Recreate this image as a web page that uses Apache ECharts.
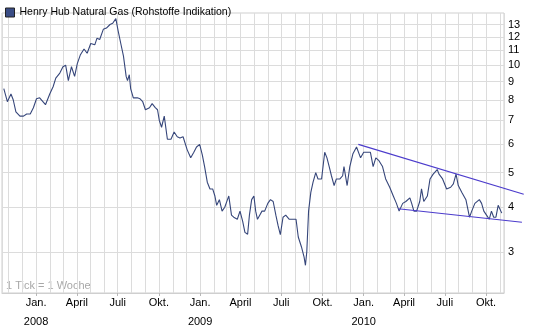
<!DOCTYPE html>
<html><head><meta charset="utf-8">
<script src="https://cdn.jsdelivr.net/npm/echarts@6/dist/echarts.min.js"></script>
<style>html,body{margin:0;padding:0;background:#fff}#c{width:545px;height:327px}</style>
</head><body><div id="c"></div>
<script>
const seriesName = 'Henry Hub Natural Gas (Rohstoffe Indikation)';
const dates = ['2007-10-21','2007-10-29','2007-11-06','2007-11-11','2007-11-17','2007-11-26','2007-12-04','2007-12-11','2007-12-19','2007-12-26',
'2008-01-02','2008-01-09','2008-01-22','2008-02-01','2008-02-08','2008-02-14','2008-02-23','2008-03-01','2008-03-07','2008-03-13',
'2008-03-20','2008-03-27','2008-04-02','2008-04-09','2008-04-17','2008-04-24','2008-05-02','2008-05-11','2008-05-16','2008-05-22',
'2008-05-30','2008-06-06','2008-06-14','2008-06-20','2008-06-27','2008-07-02','2008-07-08','2008-07-14','2008-07-20','2008-07-23',
'2008-07-27','2008-07-30','2008-08-05','2008-08-14','2008-08-20','2008-08-26','2008-09-01','2008-09-10','2008-09-16','2008-09-23',
'2008-09-28','2008-10-02','2008-10-07','2008-10-13','2008-10-20','2008-10-28','2008-11-04','2008-11-11','2008-11-17','2008-11-24',
'2008-12-03','2008-12-11','2008-12-18','2008-12-24','2008-12-31','2009-01-06','2009-01-11','2009-01-17','2009-01-23','2009-01-29',
'2009-02-03','2009-02-07','2009-02-13','2009-02-19','2009-02-25','2009-03-03','2009-03-06','2009-03-12','2009-03-17','2009-03-25',
'2009-03-31','2009-04-06','2009-04-11','2009-04-17','2009-04-21','2009-04-26','2009-05-01','2009-05-05','2009-05-09','2009-05-14',
'2009-05-19','2009-05-25','2009-06-01','2009-06-07','2009-06-13','2009-06-19','2009-06-24','2009-06-29','2009-07-05','2009-07-11',
'2009-07-19','2009-07-26','2009-08-03','2009-08-08','2009-08-15','2009-08-21','2009-08-24','2009-08-27','2009-08-31','2009-09-05',
'2009-09-10','2009-09-16','2009-09-21','2009-09-29','2009-10-06','2009-10-11','2009-10-16','2009-10-21','2009-10-27','2009-11-01',
'2009-11-09','2009-11-15','2009-11-18','2009-11-25','2009-12-01','2009-12-08','2009-12-16','2009-12-20','2009-12-25','2010-01-01',
'2010-01-09','2010-01-16','2010-01-22','2010-01-28','2010-02-04','2010-02-12','2010-02-19','2010-02-28','2010-03-08','2010-03-15',
'2010-03-21','2010-03-29','2010-04-05','2010-04-14','2010-04-18','2010-04-23','2010-04-29','2010-05-06','2010-05-10','2010-05-15',
'2010-05-23','2010-05-29','2010-06-05','2010-06-14','2010-06-18','2010-06-26','2010-07-05','2010-07-14','2010-07-20','2010-07-26',
'2010-07-31','2010-08-08','2010-08-17','2010-08-25','2010-08-30','2010-09-06','2010-09-16','2010-09-21','2010-09-26','2010-10-02',
'2010-10-08','2010-10-13','2010-10-18','2010-10-23','2010-10-28','2010-11-01','2010-11-05'];
const values = [8.6,7.9,8.3,8.0,7.4,7.2,7.2,7.3,7.3,7.6,
8.05,8.1,7.75,8.33,8.7,9.2,9.5,9.9,10.0,9.05,
9.9,9.3,10.1,10.7,11.1,10.8,11.5,11.4,11.9,11.8,
12.6,12.7,13.0,13.1,13.5,12.5,11.5,10.6,9.3,9.05,
9.4,8.6,8.1,8.1,8.05,7.9,7.5,7.6,7.8,7.6,
7.5,7.0,6.7,7.2,6.2,6.2,6.5,6.3,6.25,6.3,
5.8,5.5,5.7,5.9,6.0,5.6,5.2,4.7,4.5,4.5,
4.3,4.05,4.2,3.9,4.0,4.2,4.3,3.8,3.75,3.7,
3.9,3.65,3.4,3.36,3.8,4.2,4.3,3.9,3.7,3.8,
3.9,3.9,4.1,4.2,4.15,3.8,3.55,3.35,3.75,3.8,
3.7,3.7,3.7,3.3,3.1,2.9,2.75,3.0,3.9,4.4,
4.7,5.0,4.8,4.8,5.7,5.5,5.2,4.9,4.6,4.8,
4.8,4.9,5.2,4.6,5.2,5.65,5.9,5.95,5.5,5.7,
5.7,5.7,5.2,5.5,5.4,5.2,4.8,4.55,4.3,4.1,
3.9,4.1,4.15,4.25,4.1,3.9,3.9,4.15,4.5,4.15,
4.3,4.8,4.95,5.1,4.95,4.8,4.5,4.55,4.65,4.95,
4.6,4.4,4.2,3.75,3.9,4.1,4.2,4.1,3.9,3.8,
3.7,3.9,3.75,3.75,4.05,4.0,3.85];
const upperTrendDates = ['2009-12-20','2010-12-24'];
const upperTrendValues = [6.0,4.35];
const lowerTrendDates = ['2010-03-19','2010-12-20'];
const lowerTrendValues = [3.96,3.63];
const yTicks = [3,4,5,6,7,8,9,10,11,12,13];
const monthNames = ['Jan.','','','April','','','Juli','','','Okt.','',''];
const labelTicks = ['2008-01-01','2008-04-01','2008-07-01','2008-10-01','2009-01-01','2009-04-01','2009-07-01','2009-10-01','2010-01-01','2010-04-01','2010-07-01','2010-10-01'];

const chart = echarts.init(document.getElementById('c'));
const F = 'Liberation Sans, Arial, sans-serif';
const DAY = 86400000;
const xMin = '2007-10-17', xMax = '2010-11-10';
// extended overlay axis for trend lines that run past the plot edge (same scale, 20px wider)
const extMaxMs = Date.parse(xMax) + (Date.parse(xMax)-Date.parse(xMin))*20/502;
chart.setOption({
  animation:false,
  textStyle:{fontFamily:F},
  legend:{left:0,top:2,itemWidth:9,itemHeight:9,itemGap:4,icon:'rect',
    data:[{name:seriesName,itemStyle:{color:'#3a4d85',borderColor:'#222',borderWidth:1}}],
    textStyle:{fontSize:10.5,color:'#000',fontFamily:F}},
  grid:[
    {left:2,right:41,top:13,bottom:34,outerBoundsMode:'none',containLabel:false,show:true,borderColor:'#cfcfcf',borderWidth:1},
    {left:2,right:21,top:13,bottom:34,outerBoundsMode:'none',containLabel:false,show:false}
  ],
  xAxis:[{type:'time',gridIndex:0,min:xMin,max:xMax,
    minInterval:28*DAY,maxInterval:31*DAY,
    axisLine:{lineStyle:{color:'#cfcfcf'}},
    axisTick:{show:false},
    splitLine:{show:true,lineStyle:{color:'#dcdcdc',width:1}},
    axisLabel:{color:'#000',fontFamily:F,margin:3,hideOverlap:false,verticalAlign:'top',
      rich:{a:{fontSize:11,lineHeight:14,fontFamily:F,color:'#000'},b:{fontSize:11,lineHeight:24,fontFamily:F,color:'#000'}},
      formatter:function(v){const d=new Date(v);const m=d.getMonth();const n=monthNames[m];
        if(!n) return ''; return m===0? '{a|'+n+'}\n{b|'+d.getFullYear()+'}' : '{a|'+n+'}';}}},
    {type:'time',gridIndex:1,min:xMin,max:extMaxMs,show:false},
    {type:'time',gridIndex:0,min:xMin,max:xMax,position:'bottom',
      axisLine:{show:false},splitLine:{show:false},axisLabel:{show:false},
      axisTick:{show:true,length:3,customValues:labelTicks.map(d=>Date.parse(d)),lineStyle:{color:'#b8b8b8'}}}],
  yAxis:[{type:'log',gridIndex:0,position:'right',min:2.3,max:14,
    axisLine:{show:false},
    axisTick:{show:false,customValues:yTicks},
    splitLine:{show:true,lineStyle:{color:'#dcdcdc'}},
    axisLabel:{customValues:yTicks,fontSize:11,color:'#000',fontFamily:F,margin:4,formatter:v=>String(Math.round(v))}},
    {type:'log',gridIndex:1,min:2.3,max:14,show:false}],
  graphic:[{type:'text',left:6,top:280,style:{text:'1 Tick = 1 Woche',fill:'#a8a8a8',font:'11px '+F}}],
  series:[
    {name:seriesName,type:'line',showSymbol:false,symbol:'none',lineStyle:{color:'#36467a',width:1.1},itemStyle:{color:'#3a4d85'},
      data:dates.map((d,i)=>[d,values[i]])},
    {name:'upper',type:'line',xAxisIndex:1,yAxisIndex:1,symbol:'none',lineStyle:{color:'#4c3ccc',width:1.2},
      data:upperTrendDates.map((d,i)=>[d,upperTrendValues[i]])},
    {name:'lower',type:'line',xAxisIndex:1,yAxisIndex:1,symbol:'none',lineStyle:{color:'#4c3ccc',width:1.2},
      data:lowerTrendDates.map((d,i)=>[d,lowerTrendValues[i]])}
  ]
});
</script></body></html>
